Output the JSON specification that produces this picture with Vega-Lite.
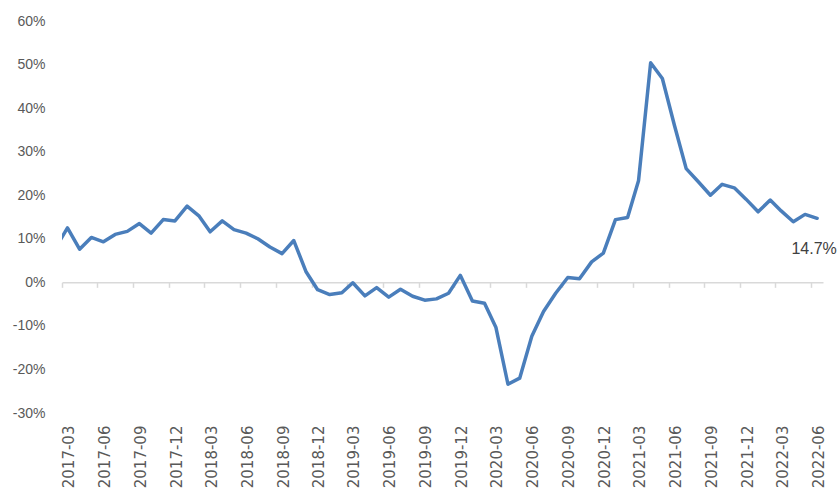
{
  "$schema": "https://vega.github.io/schema/vega-lite/v6.json",
  "width": 761,
  "height": 392,
  "autosize": {"type": "none"},
  "padding": {"left": 62, "top": 21, "right": 17, "bottom": 91},
  "background": "white",
  "config": {"view": {"stroke": null}},
  "data": {"values": [
    {"month": "2017-02-01T00:00:00", "v": 0.083},
    {"month": "2017-03-01T00:00:00", "v": 0.125},
    {"month": "2017-04-01T00:00:00", "v": 0.076},
    {"month": "2017-05-01T00:00:00", "v": 0.103},
    {"month": "2017-06-01T00:00:00", "v": 0.093},
    {"month": "2017-07-01T00:00:00", "v": 0.110},
    {"month": "2017-08-01T00:00:00", "v": 0.117},
    {"month": "2017-09-01T00:00:00", "v": 0.135},
    {"month": "2017-10-01T00:00:00", "v": 0.113},
    {"month": "2017-11-01T00:00:00", "v": 0.144},
    {"month": "2017-12-01T00:00:00", "v": 0.141},
    {"month": "2018-01-01T00:00:00", "v": 0.175},
    {"month": "2018-02-01T00:00:00", "v": 0.152},
    {"month": "2018-03-01T00:00:00", "v": 0.116},
    {"month": "2018-04-01T00:00:00", "v": 0.141},
    {"month": "2018-05-01T00:00:00", "v": 0.121},
    {"month": "2018-06-01T00:00:00", "v": 0.113},
    {"month": "2018-07-01T00:00:00", "v": 0.100},
    {"month": "2018-08-01T00:00:00", "v": 0.081},
    {"month": "2018-09-01T00:00:00", "v": 0.066},
    {"month": "2018-10-01T00:00:00", "v": 0.096},
    {"month": "2018-11-01T00:00:00", "v": 0.025},
    {"month": "2018-12-01T00:00:00", "v": -0.017},
    {"month": "2019-01-01T00:00:00", "v": -0.028},
    {"month": "2019-02-01T00:00:00", "v": -0.024},
    {"month": "2019-03-01T00:00:00", "v": -0.001},
    {"month": "2019-04-01T00:00:00", "v": -0.031},
    {"month": "2019-05-01T00:00:00", "v": -0.012},
    {"month": "2019-06-01T00:00:00", "v": -0.034},
    {"month": "2019-07-01T00:00:00", "v": -0.016},
    {"month": "2019-08-01T00:00:00", "v": -0.032},
    {"month": "2019-09-01T00:00:00", "v": -0.041},
    {"month": "2019-10-01T00:00:00", "v": -0.038},
    {"month": "2019-11-01T00:00:00", "v": -0.025},
    {"month": "2019-12-01T00:00:00", "v": 0.016},
    {"month": "2020-01-01T00:00:00", "v": -0.043},
    {"month": "2020-02-01T00:00:00", "v": -0.048},
    {"month": "2020-03-01T00:00:00", "v": -0.103},
    {"month": "2020-04-01T00:00:00", "v": -0.234},
    {"month": "2020-05-01T00:00:00", "v": -0.220},
    {"month": "2020-06-01T00:00:00", "v": -0.124},
    {"month": "2020-07-01T00:00:00", "v": -0.067},
    {"month": "2020-08-01T00:00:00", "v": -0.025},
    {"month": "2020-09-01T00:00:00", "v": 0.011},
    {"month": "2020-10-01T00:00:00", "v": 0.008},
    {"month": "2020-11-01T00:00:00", "v": 0.047},
    {"month": "2020-12-01T00:00:00", "v": 0.067},
    {"month": "2021-01-01T00:00:00", "v": 0.144},
    {"month": "2021-02-01T00:00:00", "v": 0.149},
    {"month": "2021-03-01T00:00:00", "v": 0.233},
    {"month": "2021-04-01T00:00:00", "v": 0.504},
    {"month": "2021-05-01T00:00:00", "v": 0.468},
    {"month": "2021-06-01T00:00:00", "v": 0.360},
    {"month": "2021-07-01T00:00:00", "v": 0.261},
    {"month": "2021-08-01T00:00:00", "v": 0.231},
    {"month": "2021-09-01T00:00:00", "v": 0.200},
    {"month": "2021-10-01T00:00:00", "v": 0.225},
    {"month": "2021-11-01T00:00:00", "v": 0.217},
    {"month": "2021-12-01T00:00:00", "v": 0.191},
    {"month": "2022-01-01T00:00:00", "v": 0.162},
    {"month": "2022-02-01T00:00:00", "v": 0.189},
    {"month": "2022-03-01T00:00:00", "v": 0.164},
    {"month": "2022-04-01T00:00:00", "v": 0.139},
    {"month": "2022-05-01T00:00:00", "v": 0.156},
    {"month": "2022-06-01T00:00:00", "v": 0.147}
  ]},
  "layer": [
    {
      "mark": {"type": "line", "color": "#4A7EBB", "strokeWidth": 3.5, "clip": true, "strokeJoin": "round", "strokeCap": "round"},
      "encoding": {
        "x": {
          "field": "month", "type": "temporal",
          "scale": {"domain": [{"year": 2017, "month": 2, "date": 15}, {"year": 2022, "month": 6, "date": 16}]},
          "axis": {
            "title": null, "grid": false,
            "tickCount": 100,
            "values": [
              {"year": 2017, "month": 3, "date": 1}, {"year": 2017, "month": 6, "date": 1}, {"year": 2017, "month": 9, "date": 1}, {"year": 2017, "month": 12, "date": 1},
              {"year": 2018, "month": 3, "date": 1}, {"year": 2018, "month": 6, "date": 1}, {"year": 2018, "month": 9, "date": 1}, {"year": 2018, "month": 12, "date": 1},
              {"year": 2019, "month": 3, "date": 1}, {"year": 2019, "month": 6, "date": 1}, {"year": 2019, "month": 9, "date": 1}, {"year": 2019, "month": 12, "date": 1},
              {"year": 2020, "month": 3, "date": 1}, {"year": 2020, "month": 6, "date": 1}, {"year": 2020, "month": 9, "date": 1}, {"year": 2020, "month": 12, "date": 1},
              {"year": 2021, "month": 3, "date": 1}, {"year": 2021, "month": 6, "date": 1}, {"year": 2021, "month": 9, "date": 1}, {"year": 2021, "month": 12, "date": 1},
              {"year": 2022, "month": 3, "date": 1}, {"year": 2022, "month": 6, "date": 1}
            ],
            "format": "%Y-%m",
            "labelAngle": -90,
            "offset": -130.67,
            "tickOffset": -5.95,
            "labelOffset": 7,
            "labelPadding": 137.7,
            "tickSize": 5,
            "tickWidth": 1.5,
            "tickColor": "#D9D9D9",
            "domainColor": "#D9D9D9",
            "domainWidth": 1.5,
            "labelFont": "DejaVu Sans",
            "labelFontSize": 15,
            "labelColor": "#595959",
            "labelBound": false,
            "labelOverlap": false,
            "labelFlush": false
          }
        },
        "y": {
          "field": "v", "type": "quantitative",
          "scale": {"domain": [-0.3, 0.6], "nice": false, "zero": false},
          "axis": {
            "title": null, "grid": false, "domain": false, "ticks": false,
            "values": [-0.3, -0.2, -0.1, 0, 0.1, 0.2, 0.3, 0.4, 0.5, 0.6],
            "format": ".0%",
            "labelExpr": "replace(datum.label, '\u2212', '-')",
            "labelPadding": 17,
            "labelFont": "Liberation Sans",
            "labelFontSize": 14,
            "labelColor": "#595959"
          }
        }
      }
    },
    {
      "transform": [{"filter": "year(datum.month) == 2022 && month(datum.month) == 5"}],
      "mark": {"type": "text", "dy": 31, "dx": -3, "font": "Liberation Sans", "fontSize": 16, "color": "#404040", "align": "center", "baseline": "middle"},
      "encoding": {
        "x": {"field": "month", "type": "temporal"},
        "y": {"field": "v", "type": "quantitative"},
        "text": {"field": "v", "type": "quantitative", "format": ".1%"}
      }
    }
  ]
}
